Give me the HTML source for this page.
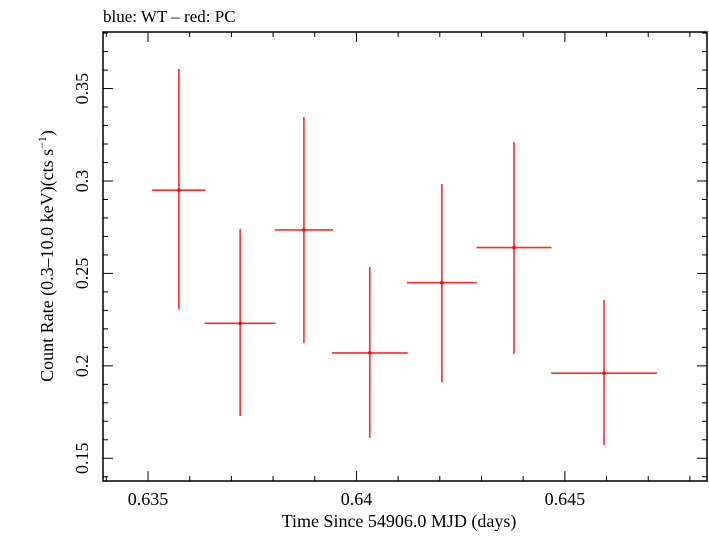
<!DOCTYPE html>
<html><head><meta charset="utf-8"><style>
body{margin:0;background:#fff;}
svg text{font-family:"Liberation Serif",serif;fill:#000;}
</style></head><body>
<svg id="chart" width="709" height="532" xmlns="http://www.w3.org/2000/svg">
<text x="103" y="22" font-size="17">blue: WT – red: PC</text>
<g id="axes"></g><g id="marks"></g>
<text x="399" y="527" font-size="18" text-anchor="middle">Time Since 54906.0 MJD (days)</text>
<text transform="translate(53,256) rotate(-90)" font-size="18" text-anchor="middle">Count Rate (0.3–10.0 keV)(cts s<tspan dy="-7" font-size="12">−1</tspan><tspan dy="7">)</tspan></text>
</svg>
<script>
const times=[0.63574,0.63721,0.63874,0.64032,0.64205,0.64378,0.64594];
const timeHalfWidths=[0.00064,0.00085,0.0007,0.00091,0.00084,0.0009,0.00127];
const rates=[0.295,0.223,0.2735,0.207,0.245,0.264,0.196];
const rateHi=[0.3606,0.274,0.3346,0.2535,0.2984,0.3211,0.2356];
const rateLo=[0.2305,0.1728,0.2123,0.161,0.1912,0.2064,0.1571];
const xTicks=[0.635,0.64,0.645];
const xTickLabels=["0.635","0.64","0.645"];
const yTicks=[0.15,0.2,0.25,0.3,0.35];
const yTickLabels=["0.15","0.2","0.25","0.3","0.35"];
const L=103,R=707,T=32,B=481;
const xMin=0.63392,xMax=0.64841,yMin=0.1377,yMax=0.3806;
const X=v=>L+(v-xMin)/(xMax-xMin)*(R-L);
const Y=v=>B-(v-yMin)/(yMax-yMin)*(B-T);
const NS="http://www.w3.org/2000/svg";
function mk(p,tag,a){const e=document.createElementNS(NS,tag);for(const k in a)e.setAttribute(k,a[k]);p.appendChild(e);return e;}
const ax=document.getElementById('axes');
const fr=mk(ax,'rect',{x:L,y:T,width:R-L,height:B-T,fill:'none',stroke:'#000','stroke-width':1.5});


for(let i=634;i<=648;i++){const v=i/1000;if(v<xMin||v>xMax)continue;const maj=i%5===0;const len=maj?10:5;const x=X(v);
const t1=mk(ax,'line',{x1:x,x2:x,y1:B,y2:B-len,stroke:'#000'});


const t2=mk(ax,'line',{x1:x,x2:x,y1:T,y2:T+len,stroke:'#000'});

}
for(let i=14;i<=38;i++){const v=i/100;if(v<yMin||v>yMax)continue;const maj=i%5===0;const len=maj?10:5;const y=Y(v);
const t1=mk(ax,'line',{x1:L,x2:L+len,y1:y,y2:y,stroke:'#000'});


const t2=mk(ax,'line',{x1:R,x2:R-len,y1:y,y2:y,stroke:'#000'});

}
xTicks.forEach((v,i)=>{const t=mk(ax,'text',{x:X(v),y:505,'font-size':18,'text-anchor':'middle'});t.textContent=xTickLabels[i];

});
yTicks.forEach((v,i)=>{const t=mk(ax,'text',{transform:`translate(88,${Y(v)}) rotate(-90)`,'font-size':18,'text-anchor':'middle'});t.textContent=yTickLabels[i];

});
const mg=document.getElementById('marks');
times.forEach((t,i)=>{const g=mk(mg,'g',{stroke:'#ff2a2a','stroke-width':1.6});


mk(g,'line',{x1:X(t-timeHalfWidths[i]),x2:X(t+timeHalfWidths[i]),y1:Y(rates[i]),y2:Y(rates[i])});
mk(g,'line',{x1:X(t),x2:X(t),y1:Y(rateHi[i]),y2:Y(rateLo[i])});
mk(g,'rect',{x:X(t)-1.5,y:Y(rates[i])-1.5,width:3,height:3,fill:'#ff0000',stroke:'none'});});
</script>
</body></html>
